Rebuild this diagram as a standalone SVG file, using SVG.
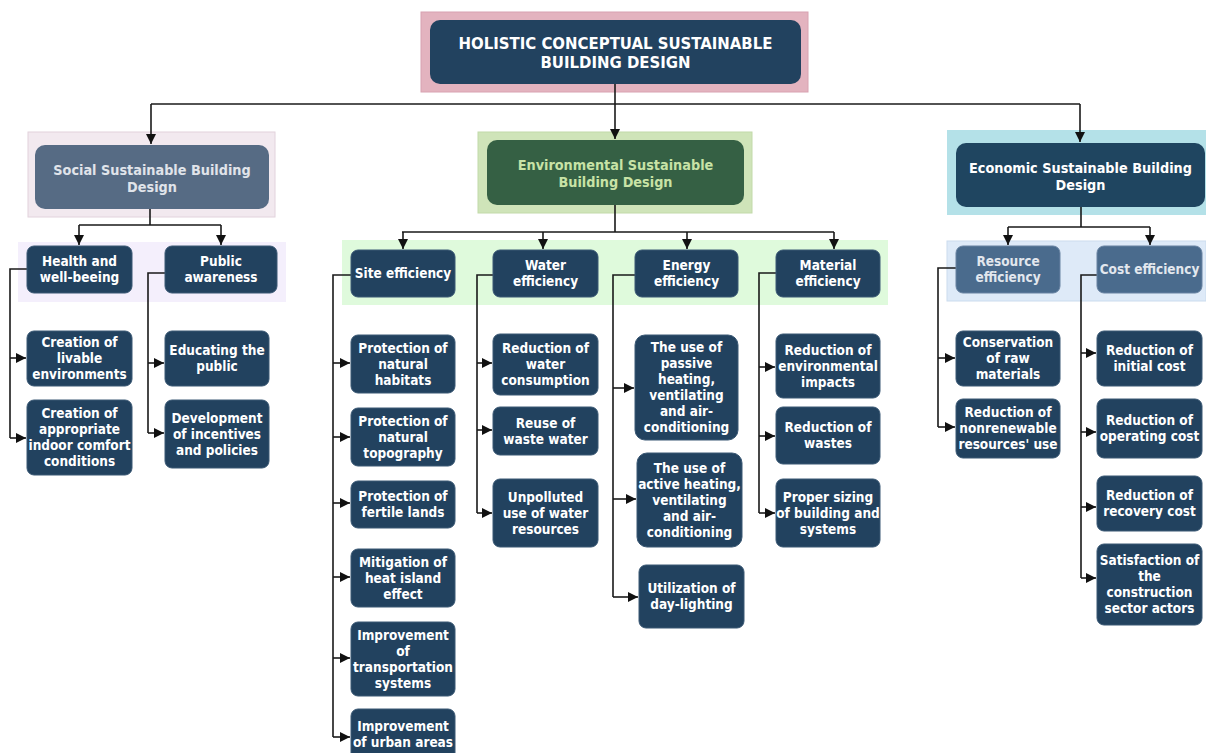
<svg xmlns="http://www.w3.org/2000/svg" width="1206" height="753" viewBox="0 0 1206 753">
  <defs>
    <marker id="arr" viewBox="0 0 10 10" refX="10" refY="5" markerWidth="10" markerHeight="10" markerUnits="userSpaceOnUse" orient="auto">
      <path d="M0,0 L10,5 L0,10 z" fill="#111"/>
    </marker>
    <style>
      text { font-family: "DejaVu Sans Condensed", "DejaVu Sans", sans-serif; font-stretch: condensed; font-weight: bold; text-anchor: middle; }
      .leaf rect { fill: #22425f; stroke: #3a5874; stroke-width: 1; }
      .leaf text { fill: #ffffff; font-size: 13.5px; }
      .sub rect { fill: #22425f; stroke: #3a5874; stroke-width: 1; }
      .sub text { fill: #ffffff; font-size: 13.5px; }
      .subb rect { fill: #4a6b8d; stroke: #6883a2; stroke-width: 1; }
      .subb text { fill: #e2e7ee; font-size: 13.5px; }
      .conn path { fill: none; stroke: #1a1a1a; stroke-width: 1.6; }
      .conn .a { marker-end: url(#arr); }
    </style>
  </defs>
  <rect width="1206" height="753" fill="#ffffff"/>

  <!-- background panels -->
  <g id="panels">
    <rect x="421" y="12" width="387" height="80" fill="#e3b3bf" stroke="#d8a2b1"/>
    <rect x="28" y="132" width="247" height="85" fill="#f2e9ef" stroke="#e2d2dc"/>
    <rect x="478" y="132" width="274" height="81" fill="#cfe4b9" stroke="#c2daa9"/>
    <rect x="947" y="130" width="259" height="85" fill="#b4e1e8"/>
    <rect x="18" y="242" width="268" height="60" fill="#f4effc"/>
    <rect x="342" y="240" width="546" height="65" fill="#dffadc"/>
    <rect x="947" y="241" width="259" height="60" fill="#deeaf8" stroke="#cbdcee"/>
  </g>

  <!-- connectors -->
  <g id="connectors" class="conn">
    <path d="M615,84 V104"/>
    <path d="M151,104 H1080"/>
    <path class="a" d="M615,104 V139"/>
    <path class="a" d="M151,104 V144"/>
    <path class="a" d="M1080,104 V142"/>

    <!-- social -->
    <path d="M150,209 V225 M79,225 H221"/>
    <path class="a" d="M79,225 V245"/>
    <path class="a" d="M221,225 V245"/>
    <path d="M27,269 H10 V438"/>
    <path class="a" d="M10,358 H26"/>
    <path class="a" d="M10,438 H26"/>
    <path d="M165,273 H148 V433"/>
    <path class="a" d="M148,363 H164"/>
    <path class="a" d="M148,433 H164"/>

    <!-- environmental -->
    <path d="M615,205 V232 M402,232 H834"/>
    <path class="a" d="M403,232 V249"/>
    <path class="a" d="M543,232 V249"/>
    <path class="a" d="M687,232 V249"/>
    <path class="a" d="M834,232 V249"/>
    <path d="M351,275 H333 V737"/>
    <path class="a" d="M333,363 H350"/>
    <path class="a" d="M333,437 H350"/>
    <path class="a" d="M333,503 H350"/>
    <path class="a" d="M333,577 H350"/>
    <path class="a" d="M333,658 H350"/>
    <path class="a" d="M333,737 H350"/>
    <path d="M493,275 H477 V513"/>
    <path class="a" d="M477,363 H492"/>
    <path class="a" d="M477,430 H492"/>
    <path class="a" d="M477,513 H492"/>
    <path d="M635,275 H613 V597"/>
    <path class="a" d="M613,388 H634"/>
    <path class="a" d="M613,499 H636"/>
    <path class="a" d="M613,597 H638"/>
    <path d="M776,273 H759 V513"/>
    <path class="a" d="M759,367 H775"/>
    <path class="a" d="M759,436 H775"/>
    <path class="a" d="M759,513 H775"/>

    <!-- economic -->
    <path d="M1081,207 V227 M1008,227 H1150"/>
    <path class="a" d="M1008,227 V245"/>
    <path class="a" d="M1150,227 V245"/>
    <path d="M956,268 H938 V427"/>
    <path class="a" d="M938,358 H955"/>
    <path class="a" d="M938,427 H955"/>
    <path d="M1097,275 H1081 V578"/>
    <path class="a" d="M1081,353 H1096"/>
    <path class="a" d="M1081,432 H1096"/>
    <path class="a" d="M1081,507 H1096"/>
    <path class="a" d="M1081,578 H1096"/>
  </g>

  <!-- root -->
  <g id="root">
    <rect x="430" y="20" width="371" height="64" rx="10" fill="#22425f"/>
    <text x="615.5" y="49" font-size="16.6" fill="#ffffff">HOLISTIC CONCEPTUAL SUSTAINABLE<tspan x="615.5" dy="19">BUILDING DESIGN</tspan></text>
  </g>

  <!-- pillars -->
  <g id="social">
    <rect x="35" y="145" width="234" height="64" rx="10" fill="#566b84"/>
    <text x="152" y="175" font-size="14.3" fill="#e0e4ea">Social Sustainable Building<tspan x="152" dy="17">Design</tspan></text>
  </g>
  <g id="environmental">
    <rect x="487" y="140" width="257" height="65" rx="10" fill="#356044"/>
    <text x="615.5" y="170" font-size="14.3" fill="#c8e3a6">Environmental Sustainable<tspan x="615.5" dy="17">Building Design</tspan></text>
  </g>
  <g id="economic">
    <rect x="956" y="143" width="249" height="64" rx="10" fill="#1f4560"/>
    <text x="1080.5" y="173" font-size="14.3" fill="#ffffff">Economic Sustainable Building<tspan x="1080.5" dy="17">Design</tspan></text>
  </g>

  <!-- social criteria -->
  <g id="health" class="sub">
    <rect x="27" y="246" width="105" height="47" rx="7"/>
    <text x="79.5" y="266"><tspan>Health and</tspan><tspan x="79.5" dy="16">well-beeing</tspan></text>
  </g>
  <g id="public" class="sub">
    <rect x="165" y="246" width="112" height="47" rx="7"/>
    <text x="221" y="266"><tspan>Public</tspan><tspan x="221" dy="16">awareness</tspan></text>
  </g>
  <g id="livable" class="leaf">
    <rect x="27" y="331" width="105" height="55" rx="7"/>
    <text x="79.5" y="347">Creation of<tspan x="79.5" dy="16">livable</tspan><tspan x="79.5" dy="16">environments</tspan></text>
  </g>
  <g id="indoor" class="leaf">
    <rect x="27" y="400" width="105" height="75" rx="7"/>
    <text x="79.5" y="418">Creation of<tspan x="79.5" dy="16">appropriate</tspan><tspan x="79.5" dy="16">indoor comfort</tspan><tspan x="79.5" dy="16">conditions</tspan></text>
  </g>
  <g id="educating" class="leaf">
    <rect x="165" y="331" width="104" height="55" rx="7"/>
    <text x="217" y="355">Educating the<tspan x="217" dy="16">public</tspan></text>
  </g>
  <g id="incentives" class="leaf">
    <rect x="165" y="400" width="104" height="68" rx="7"/>
    <text x="217" y="422.5">Development<tspan x="217" dy="16">of incentives</tspan><tspan x="217" dy="16">and policies</tspan></text>
  </g>

  <!-- environmental criteria -->
  <g id="site" class="sub">
    <rect x="351" y="250" width="104" height="47" rx="7"/>
    <text x="403" y="278">Site efficiency</text>
  </g>
  <g id="water" class="sub">
    <rect x="493" y="250" width="105" height="47" rx="7"/>
    <text x="545.5" y="270">Water<tspan x="545.5" dy="16">efficiency</tspan></text>
  </g>
  <g id="energy" class="sub">
    <rect x="635" y="250" width="103" height="47" rx="7"/>
    <text x="686.5" y="270">Energy<tspan x="686.5" dy="16">efficiency</tspan></text>
  </g>
  <g id="material" class="sub">
    <rect x="776" y="250" width="104" height="47" rx="7"/>
    <text x="828" y="270">Material<tspan x="828" dy="16">efficiency</tspan></text>
  </g>

  <g id="habitats" class="leaf">
    <rect x="351" y="335" width="104" height="58" rx="7"/>
    <text x="403" y="352.5">Protection of<tspan x="403" dy="16">natural</tspan><tspan x="403" dy="16">habitats</tspan></text>
  </g>
  <g id="topography" class="leaf">
    <rect x="351" y="408" width="104" height="58" rx="7"/>
    <text x="403" y="425.5">Protection of<tspan x="403" dy="16">natural</tspan><tspan x="403" dy="16">topography</tspan></text>
  </g>
  <g id="fertile" class="leaf">
    <rect x="351" y="481" width="104" height="47" rx="7"/>
    <text x="403" y="501">Protection of<tspan x="403" dy="16">fertile lands</tspan></text>
  </g>
  <g id="heat-island" class="leaf">
    <rect x="351" y="549" width="104" height="58" rx="7"/>
    <text x="403" y="566.5">Mitigation of<tspan x="403" dy="16">heat island</tspan><tspan x="403" dy="16">effect</tspan></text>
  </g>
  <g id="transportation" class="leaf">
    <rect x="351" y="622" width="104" height="74" rx="7"/>
    <text x="403" y="639.5">Improvement<tspan x="403" dy="16">of</tspan><tspan x="403" dy="16">transportation</tspan><tspan x="403" dy="16">systems</tspan></text>
  </g>
  <g id="urban" class="leaf">
    <rect x="351" y="709" width="104" height="52" rx="7"/>
    <text x="403" y="730.5">Improvement<tspan x="403" dy="16">of urban areas</tspan></text>
  </g>

  <g id="water-consumption" class="leaf">
    <rect x="493" y="334" width="105" height="61" rx="7"/>
    <text x="545.5" y="353">Reduction of<tspan x="545.5" dy="16">water</tspan><tspan x="545.5" dy="16">consumption</tspan></text>
  </g>
  <g id="waste-water" class="leaf">
    <rect x="493" y="407" width="105" height="48" rx="7"/>
    <text x="545.5" y="427.5">Reuse of<tspan x="545.5" dy="16">waste water</tspan></text>
  </g>
  <g id="unpolluted" class="leaf">
    <rect x="493" y="479" width="105" height="68" rx="7"/>
    <text x="545.5" y="501.5">Unpolluted<tspan x="545.5" dy="16">use of water</tspan><tspan x="545.5" dy="16">resources</tspan></text>
  </g>

  <g id="passive" class="leaf">
    <rect x="635" y="335" width="103" height="105" rx="10"/>
    <text x="686.5" y="352">The use of<tspan x="686.5" dy="16">passive</tspan><tspan x="686.5" dy="16">heating,</tspan><tspan x="686.5" dy="16">ventilating</tspan><tspan x="686.5" dy="16">and air-</tspan><tspan x="686.5" dy="16">conditioning</tspan></text>
  </g>
  <g id="active" class="leaf">
    <rect x="637" y="453" width="105" height="94" rx="10"/>
    <text x="689.5" y="472.5">The use of<tspan x="689.5" dy="16">active heating,</tspan><tspan x="689.5" dy="16">ventilating</tspan><tspan x="689.5" dy="16">and air-</tspan><tspan x="689.5" dy="16">conditioning</tspan></text>
  </g>
  <g id="daylighting" class="leaf">
    <rect x="639" y="565" width="105" height="63" rx="7"/>
    <text x="691.5" y="593">Utilization of<tspan x="691.5" dy="16">day-lighting</tspan></text>
  </g>

  <g id="env-impacts" class="leaf">
    <rect x="776" y="334" width="104" height="64" rx="7"/>
    <text x="828" y="354.5">Reduction of<tspan x="828" dy="16">environmental</tspan><tspan x="828" dy="16">impacts</tspan></text>
  </g>
  <g id="wastes" class="leaf">
    <rect x="776" y="407" width="104" height="57" rx="7"/>
    <text x="828" y="432">Reduction of<tspan x="828" dy="16">wastes</tspan></text>
  </g>
  <g id="sizing" class="leaf">
    <rect x="776" y="479" width="104" height="68" rx="7"/>
    <text x="828" y="501.5">Proper sizing<tspan x="828" dy="16">of building and</tspan><tspan x="828" dy="16">systems</tspan></text>
  </g>

  <!-- economic criteria -->
  <g id="resource" class="subb">
    <rect x="956" y="246" width="104" height="47" rx="7"/>
    <text x="1008" y="266">Resource<tspan x="1008" dy="16">efficiency</tspan></text>
  </g>
  <g id="cost" class="subb">
    <rect x="1097" y="246" width="105" height="47" rx="7"/>
    <text x="1149.5" y="274">Cost efficiency</text>
  </g>
  <g id="raw-materials" class="leaf">
    <rect x="956" y="331" width="104" height="55" rx="7"/>
    <text x="1008" y="347">Conservation<tspan x="1008" dy="16">of raw</tspan><tspan x="1008" dy="16">materials</tspan></text>
  </g>
  <g id="nonrenewable" class="leaf">
    <rect x="956" y="399" width="104" height="59" rx="7"/>
    <text x="1008" y="417">Reduction of<tspan x="1008" dy="16">nonrenewable</tspan><tspan x="1008" dy="16">resources' use</tspan></text>
  </g>
  <g id="initial-cost" class="leaf">
    <rect x="1097" y="331" width="105" height="55" rx="7"/>
    <text x="1149.5" y="355">Reduction of<tspan x="1149.5" dy="16">initial cost</tspan></text>
  </g>
  <g id="operating-cost" class="leaf">
    <rect x="1097" y="399" width="105" height="59" rx="7"/>
    <text x="1149.5" y="425">Reduction of<tspan x="1149.5" dy="16">operating cost</tspan></text>
  </g>
  <g id="recovery-cost" class="leaf">
    <rect x="1097" y="476" width="105" height="55" rx="7"/>
    <text x="1149.5" y="500">Reduction of<tspan x="1149.5" dy="16">recovery cost</tspan></text>
  </g>
  <g id="actors" class="leaf">
    <rect x="1097" y="544" width="105" height="81" rx="7"/>
    <text x="1149.5" y="565">Satisfaction of<tspan x="1149.5" dy="16">the</tspan><tspan x="1149.5" dy="16">construction</tspan><tspan x="1149.5" dy="16">sector actors</tspan></text>
  </g>
</svg>
